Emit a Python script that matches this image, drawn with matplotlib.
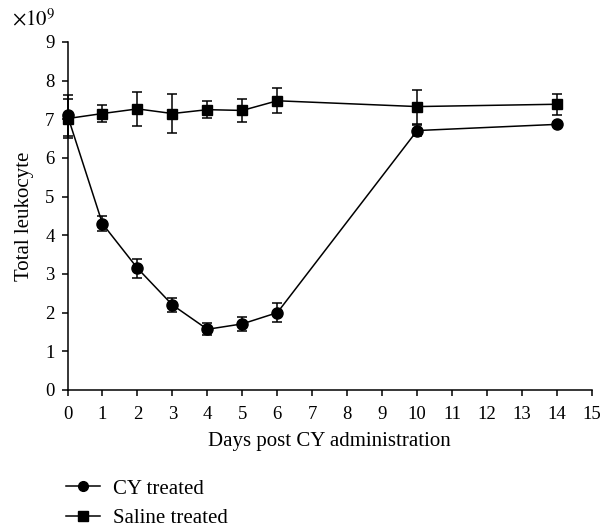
import matplotlib
matplotlib.use("Agg")
import matplotlib.pyplot as plt
from matplotlib.lines import Line2D

plt.rcParams['font.family'] = ['Liberation Serif', 'DejaVu Serif']
plt.rcParams['mathtext.fontset'] = 'stix'

days = [0, 1, 2, 3, 4, 5, 6, 10, 14]
cy_values = [7.1, 4.3, 3.15, 2.2, 1.57, 1.71, 2.0, 6.71, 6.87]
cy_errors = [0.54, 0.2, 0.25, 0.19, 0.15, 0.18, 0.25, 0.15, 0.05]
saline_values = [7.02, 7.15, 7.27, 7.15, 7.25, 7.23, 7.48, 7.33, 7.39]
saline_errors = [0.5, 0.23, 0.44, 0.51, 0.22, 0.3, 0.32, 0.44, 0.27]
x_ticks = list(range(0, 16))
y_ticks = list(range(0, 10))

TICK_FS = 13.5
LABEL_FS = 15

fig = plt.figure(figsize=(6.03, 5.29), dpi=100)
ax = fig.add_axes([67.5/603, 1 - 390/529, (592-67.5)/603, (390-42)/529])

ax.errorbar(days, cy_values, yerr=cy_errors, color='black', marker='o',
            markersize=8, linewidth=1.1, elinewidth=1.1, capsize=3.5,
            capthick=1.1, clip_on=False, zorder=3)
ax.errorbar(days, saline_values, yerr=saline_errors, color='black', marker='s',
            markersize=7.5, linewidth=1.1, elinewidth=1.1, capsize=3.5,
            capthick=1.1, clip_on=False, zorder=3)

ax.set_xlim(0, 15)
ax.set_ylim(0, 9)
ax.set_xticks(x_ticks)
ax.set_yticks(y_ticks)
ax.spines['top'].set_visible(False)
ax.spines['right'].set_visible(False)
for s in ['left', 'bottom']:
    ax.spines[s].set_linewidth(1.1)
ax.tick_params(axis='x', direction='out', length=4.3, width=1.1, labelsize=TICK_FS, pad=7.5)
ax.tick_params(axis='y', direction='out', length=4.3, width=1.1, labelsize=TICK_FS, pad=5)
ax.set_xlabel('Days post CY administration', fontsize=LABEL_FS, labelpad=6)
ax.set_ylabel('Total leukocyte', fontsize=LABEL_FS, labelpad=8)

fig.text(12/603, 1 - 20/529, r'$\times10^9$', fontsize=15, va='center', ha='left')

handles = [
    Line2D([], [], color='black', marker='o', markersize=7, linewidth=1.1),
    Line2D([], [], color='black', marker='s', markersize=6.5, linewidth=1.1),
]
labels = ['CY treated', 'Saline treated']
fig.legend(handles, labels, loc='upper left', bbox_to_anchor=(66/603, 1 - 479/529),
           frameon=False, fontsize=LABEL_FS, handlelength=1.65, handletextpad=0.6,
           labelspacing=0.49, borderpad=0, borderaxespad=0)

fig.savefig('out.png', dpi=100)
